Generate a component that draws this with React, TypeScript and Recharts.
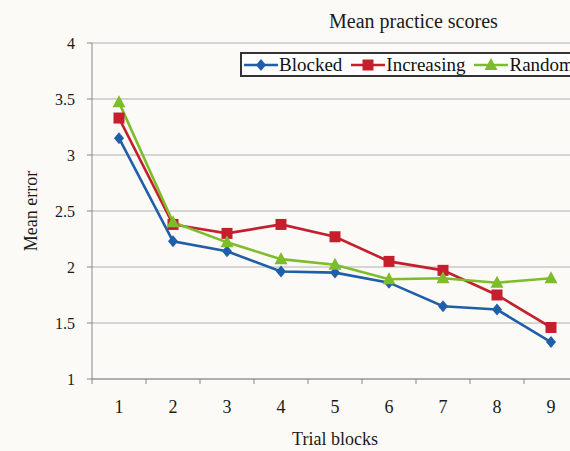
import { LineChart, Line, XAxis, YAxis, CartesianGrid } from 'recharts';

const blocks = ['1', '2', '3', '4', '5', '6', '7', '8', '9'];
const blocked = [3.15, 2.23, 2.14, 1.96, 1.95, 1.86, 1.65, 1.62, 1.33];
const increasing = [3.33, 2.38, 2.30, 2.38, 2.27, 2.05, 1.97, 1.75, 1.46];
const random = [3.47, 2.40, 2.22, 2.07, 2.02, 1.89, 1.90, 1.86, 1.90];
const yTicks = [1, 1.5, 2, 2.5, 3, 3.5, 4];

const FONT = '"Liberation Serif", "Times New Roman", serif';
const BG = '#fbfaf6';

const series = [
    { key: 'blocked', name: 'Blocked', color: '#1f5ea8', shape: 'diamond' },
    { key: 'increasing', name: 'Increasing', color: '#c51f2e', shape: 'square' },
    { key: 'random', name: 'Random', color: '#7dbd2b', shape: 'triangle' },
];

const data = blocks.map((b, i) => ({
    block: b,
    blocked: blocked[i],
    increasing: increasing[i],
    random: random[i],
}));

function Marker({ cx, cy, shape, color }: { cx: number; cy: number; shape: string; color: string }) {
    if (shape === 'diamond') {
        return <polygon points={`${cx},${cy - 6} ${cx + 5},${cy} ${cx},${cy + 6} ${cx - 5},${cy}`} fill={color} />;
    }
    if (shape === 'square') {
        return <rect x={cx - 5.5} y={cy - 5.5} width={11} height={11} fill={color} />;
    }
    return <polygon points={`${cx},${cy - 7} ${cx + 6.5},${cy + 5} ${cx - 6.5},${cy + 5}`} fill={color} />;
}

const makeDot = (shape: string, color: string) => (props: any) => {
    const { cx, cy, index } = props;
    if (cx == null || cy == null) return <g key={index} />;
    return <Marker key={index} cx={cx} cy={cy} shape={shape} color={color} />;
};

// category ticks sit between the points, labels at the points
const XTick = (props: any) => {
    const { x, y, payload, index } = props;
    const half = 27;
    return (
        <g>
            <line x1={x - half} x2={x - half} y1={y} y2={y + 5} stroke="#888" />
            {index === blocks.length - 1 && <line x1={x + half} x2={x + half} y1={y} y2={y + 5} stroke="#888" />}
            <text x={x} y={y + 34} textAnchor="middle" fontFamily={FONT} fontSize={18} fill="#1a1a1a">
                {payload.value}
            </text>
        </g>
    );
};

function LegendBox() {
    return (
        <div
            style={{
                position: 'absolute',
                left: 240,
                top: 52,
                height: 21,
                border: '2px solid #333',
                background: '#fff',
                display: 'flex',
                alignItems: 'center',
                fontFamily: FONT,
                fontSize: 19,
                lineHeight: '21px',
                whiteSpace: 'nowrap',
                paddingLeft: 2,
                paddingRight: 8,
            }}
        >
            {series.map((s, i) => (
                <div key={s.key} style={{ display: 'flex', alignItems: 'center', marginLeft: i === 0 ? 0 : 9 }}>
                    <svg width={34} height={16}>
                        <line x1={0} x2={34} y1={8} y2={8} stroke={s.color} strokeWidth={2.5} />
                        <Marker cx={17} cy={8} shape={s.shape} color={s.color} />
                    </svg>
                    <span style={{ color: '#111', marginLeft: 1 }}>{s.name}</span>
                </div>
            ))}
        </div>
    );
}

export default function App() {
    return (
        <div
            style={{
                position: 'fixed',
                left: 0,
                top: 0,
                width: 570,
                height: 451,
                overflow: 'hidden',
                background: BG,
            }}
        >
            <div
                style={{
                    position: 'absolute',
                    left: 329,
                    top: 11,
                    fontFamily: FONT,
                    fontSize: 20,
                    lineHeight: 1,
                    color: '#1a1a1a',
                    whiteSpace: 'nowrap',
                }}
            >
                Mean practice scores
            </div>
            <LineChart width={600} height={451} data={data} margin={{ top: 43, right: 22, left: 0, bottom: 0 }}>
                <CartesianGrid vertical={false} stroke="#b0b0b0" strokeWidth={1.2} />
                <XAxis
                    dataKey="block"
                    padding={{ left: 27, right: 27 }}
                    height={72}
                    tickLine={false}
                    tickSize={0}
                    tickMargin={0}
                    axisLine={{ stroke: '#888' }}
                    tick={<XTick />}
                    interval={0}
                    label={(p: any) => {
                        const vb = p.viewBox;
                        return (
                            <text x={vb.x + vb.width / 2} y={vb.y + 66} textAnchor="middle" fontFamily={FONT} fontSize={18} fill="#1a1a1a">
                                Trial blocks
                            </text>
                        );
                    }}
                />
                <YAxis
                    width={92}
                    domain={[1, 4]}
                    ticks={yTicks}
                    interval={0}
                    tickSize={5}
                    tickMargin={12}
                    tickLine={{ stroke: '#888' }}
                    axisLine={{ stroke: '#888' }}
                    tick={{ fontFamily: FONT, fontSize: 16, fill: '#1a1a1a' }}
                    label={(p: any) => {
                        const vb = p.viewBox;
                        const cx = vb.x + 31;
                        const cy = vb.y + vb.height / 2;
                        return (
                            <text
                                x={cx}
                                y={cy}
                                transform={`rotate(-90 ${cx} ${cy})`}
                                textAnchor="middle"
                                dominantBaseline="central"
                                fontFamily={FONT}
                                fontSize={18}
                                fill="#1a1a1a"
                            >
                                Mean error
                            </text>
                        );
                    }}
                />
                {series.map((s) => (
                    <Line
                        key={s.key}
                        type="linear"
                        dataKey={s.key}
                        name={s.name}
                        stroke={s.color}
                        strokeWidth={2.6}
                        dot={makeDot(s.shape, s.color)}
                        activeDot={false}
                        isAnimationActive={false}
                    />
                ))}
            </LineChart>
            <LegendBox />
        </div>
    );
}
